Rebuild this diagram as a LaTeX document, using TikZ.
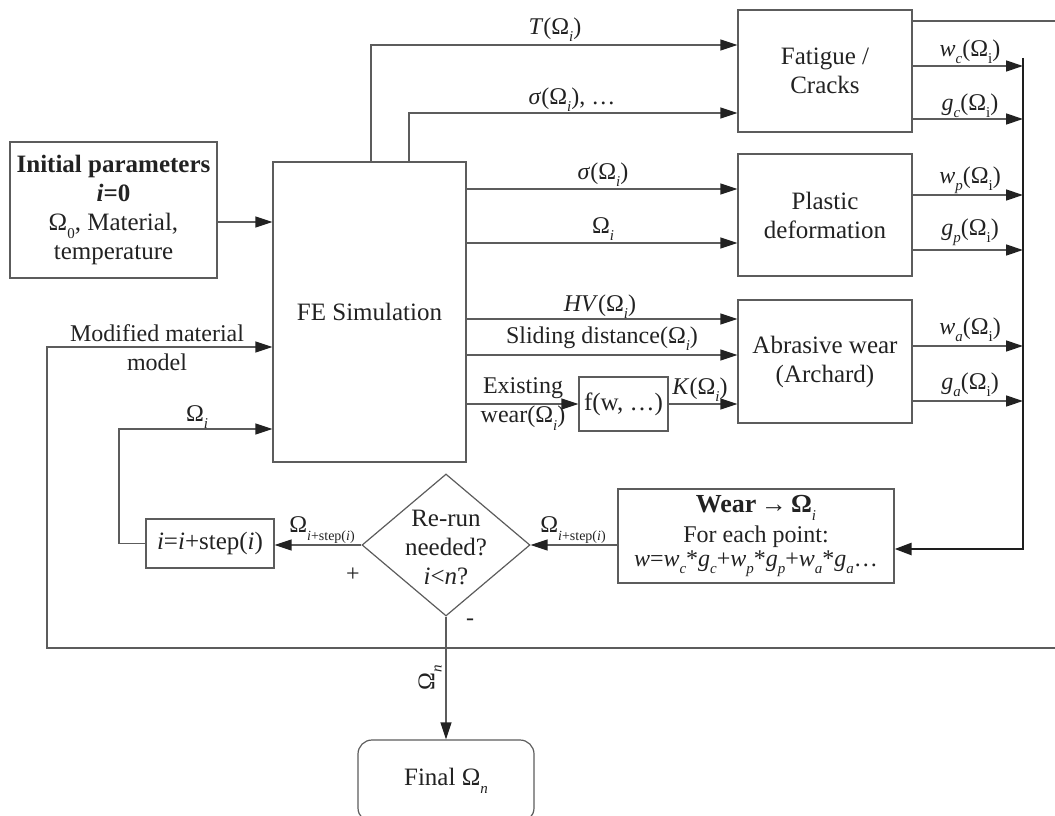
\documentclass[tikz,border=0pt]{standalone}
\usepackage{fontspec}
\setmainfont{Liberation Serif}
\usetikzlibrary{arrows.meta,shapes.geometric,calc}
\definecolor{lc}{HTML}{5C5C5C}
\definecolor{tc}{HTML}{222222}
\definecolor{bc}{HTML}{1E1E1E}
\newcommand{\sbs}[1]{\raisebox{-0.3em}{\fontsize{15}{15}\selectfont #1}}
\newcommand{\sbss}[1]{\raisebox{-0.35em}{\fontsize{14}{14}\selectfont #1}}
\begin{document}
\begin{tikzpicture}[x=1pt,y=-1pt,
  every node/.style={text=tc, font=\fontsize{25}{29}\selectfont},
  box/.style={draw=lc, line width=1.2pt, inner sep=0pt, align=center},
  lbl/.style={inner sep=0pt, align=center, font=\fontsize{24}{29}\selectfont},
  arr/.style={draw=lc, line width=1.3pt, -{Triangle[length=17pt,width=11pt,color=tc]}},
  ln/.style={draw=lc, line width=1.3pt},
  busarr/.style={draw=bc, line width=2.6pt, -{Triangle[length=17pt,width=12pt]}}
]
\useasboundingbox (0,0) rectangle (1055,816);
\clip (0,0) rectangle (1055,816);

% boxes
\node[box, minimum width=207pt, minimum height=136pt] (init) at (113.5,210)
  {\textbf{Initial parameters}\\\textbf{\textit{i}=0}\\Ω\sbs{0}, Material,\\temperature};
\node[box, minimum width=193pt, minimum height=300pt] (fe) at (369.5,312) {FE Simulation};
\node[box, minimum width=174pt, minimum height=122pt] (fat) at (825,71) {Fatigue /\\Cracks};
\node[box, minimum width=174pt, minimum height=122pt] (pla) at (825,215) {Plastic\\deformation};
\node[box, minimum width=174pt, minimum height=123pt] (abr) at (825,361.5) {Abrasive wear\\(Archard)};
\node[box, minimum width=89pt, minimum height=54pt] (fw) at (623.5,404) {f(w, …)};
\node[box, minimum width=276pt, minimum height=94pt] (wear) at (756,536)
  {{\fontsize{26}{29}\selectfont\textbf{Wear}\,{\fontsize{26}{20}\selectfont →}\,\textbf{Ω}\sbs{\textit{i}}}\\[1pt]
   {\fontsize{24}{28}\selectfont For each point:}\\[-5pt]
   {\fontsize{24}{28}\selectfont\textit{w}=\textit{w}\sbs{\textit{c}}*\textit{g}\sbs{\textit{c}}+\textit{w}\sbs{\textit{p}}*\textit{g}\sbs{\textit{p}}+\textit{w}\sbs{\textit{a}}*\textit{g}\sbs{\textit{a}}…}};
\node[box, minimum width=128pt, minimum height=49pt] (inc) at (210,543.5) {\textit{i}=\textit{i}+step(\textit{i})};
\node[diamond, draw=lc, line width=1.2pt, minimum width=168pt, minimum height=142pt, inner sep=0pt] (dec) at (446,545) {};
\node[align=center, inner sep=0pt] (dect) at (446,547) {Re-run\\needed?\\\textit{i}<\textit{n}?};
\node[box, rounded corners=14pt, minimum width=176pt, minimum height=82pt] (fin) at (446,781) {Final Ω\sbs{\textit{n}}};

% coordinates
\coordinate (busT) at (1023,58);
\coordinate (busB) at (1023,549);
\coordinate (loopTR) at (1060,21);
\coordinate (loopR) at (1060,648);
\coordinate (mmL) at (47,347);
\coordinate (oiL) at (119,429);

% connectors
\draw[arr] (init.east |- 0,222) -- (fe.west |- 0,222);
\draw[arr] (fe.north -| 371,0) |- (fat.west |- 0,45);
\draw[arr] (fe.north -| 409,0) |- (fat.west |- 0,113);
\draw[arr] (fe.east |- 0,189) -- (pla.west |- 0,189);
\draw[arr] (fe.east |- 0,243) -- (pla.west |- 0,243);
\draw[arr] (fe.east |- 0,319) -- (abr.west |- 0,319);
\draw[arr] (fe.east |- 0,355) -- (abr.west |- 0,355);
\draw[arr] (fe.east |- fw.west) -- (fw.west);
\draw[arr] (fw.east) -- (abr.west |- fw.east);

\draw[arr] (fat.east |- 0,66) -- (busT |- 0,66);
\draw[arr] (fat.east |- 0,119) -- (busT |- 0,119);
\draw[arr] (pla.east |- 0,195) -- (busT |- 0,195);
\draw[arr] (pla.east |- 0,250) -- (busT |- 0,250);
\draw[arr] (abr.east |- 0,346) -- (busT |- 0,346);
\draw[arr] (abr.east |- 0,401) -- (busT |- 0,401);
\draw[busarr] (busT) -- (busB) -- (wear.east |- busB);

\draw[ln] (fat.east |- loopTR) -- (loopTR);
\draw[arr] (loopR) -| (mmL) -- (fe.west |- mmL);
\draw[arr] (inc.west) -| (oiL) -- (fe.west |- oiL);
\draw[arr] (dec.west) -- (inc.east |- dec.west);
\draw[arr] (wear.west |- dec.east) -- (dec.east);
\draw[arr] (dec.south) -- (fin.north);

% labels
\node[lbl] (lT) at (555,30) {\textit{T}(Ω\sbs{\textit{i}})};
\node[lbl] (lS1) at (572,100) {\textit{σ}(Ω\sbs{\textit{i}}), …};
\node[lbl] (lS2) at (603,175) {\textit{σ}(Ω\sbs{\textit{i}})};
\node[lbl] (lO1) at (603,229) {Ω\sbs{\textit{i}}};
\node[lbl] (lHV) at (600,307) {\textit{HV}(Ω\sbs{\textit{i}})};
\node[lbl] (lSD) at (602,339) {Sliding distance(Ω\sbs{\textit{i}})};
\node[lbl] (lEx) at (523,404) {Existing\\wear(Ω\sbs{\textit{i}})};
\node[lbl] (lK) at (700,390) {\textit{K}(Ω\sbs{\textit{i}})};
\node[lbl] (lwc) at (970,52) {\textit{w}\sbs{\textit{c}}(Ω\sbs{i})};
\node[lbl] (lgc) at (970,106) {\textit{g}\sbs{\textit{c}}(Ω\sbs{i})};
\node[lbl] (lwp) at (970,180) {\textit{w}\sbs{\textit{p}}(Ω\sbs{i})};
\node[lbl] (lgp) at (970,232) {\textit{g}\sbs{\textit{p}}(Ω\sbs{i})};
\node[lbl] (lwa) at (970,330) {\textit{w}\sbs{\textit{a}}(Ω\sbs{i})};
\node[lbl] (lga) at (970,385) {\textit{g}\sbs{\textit{a}}(Ω\sbs{i})};
\node[lbl] (lmm) at (157,348) {Modified material\\model};
\node[lbl] (lOi) at (197,417) {Ω\sbs{\textit{i}}};
\node[lbl] (lOs1) at (322,530) {Ω\sbss{\textit{i}+step(\textit{i})}};
\node[lbl] (lOs2) at (573,530) {Ω\sbss{\textit{i}+step(\textit{i})}};
\node[lbl] (lplus) at (353,575) {+};
\node[lbl] (lminus) at (470,622) {-};
\node[lbl, rotate=90] (lOn) at (430,678) {Ω\sbs{\textit{n}}};
\end{tikzpicture}
\end{document}
